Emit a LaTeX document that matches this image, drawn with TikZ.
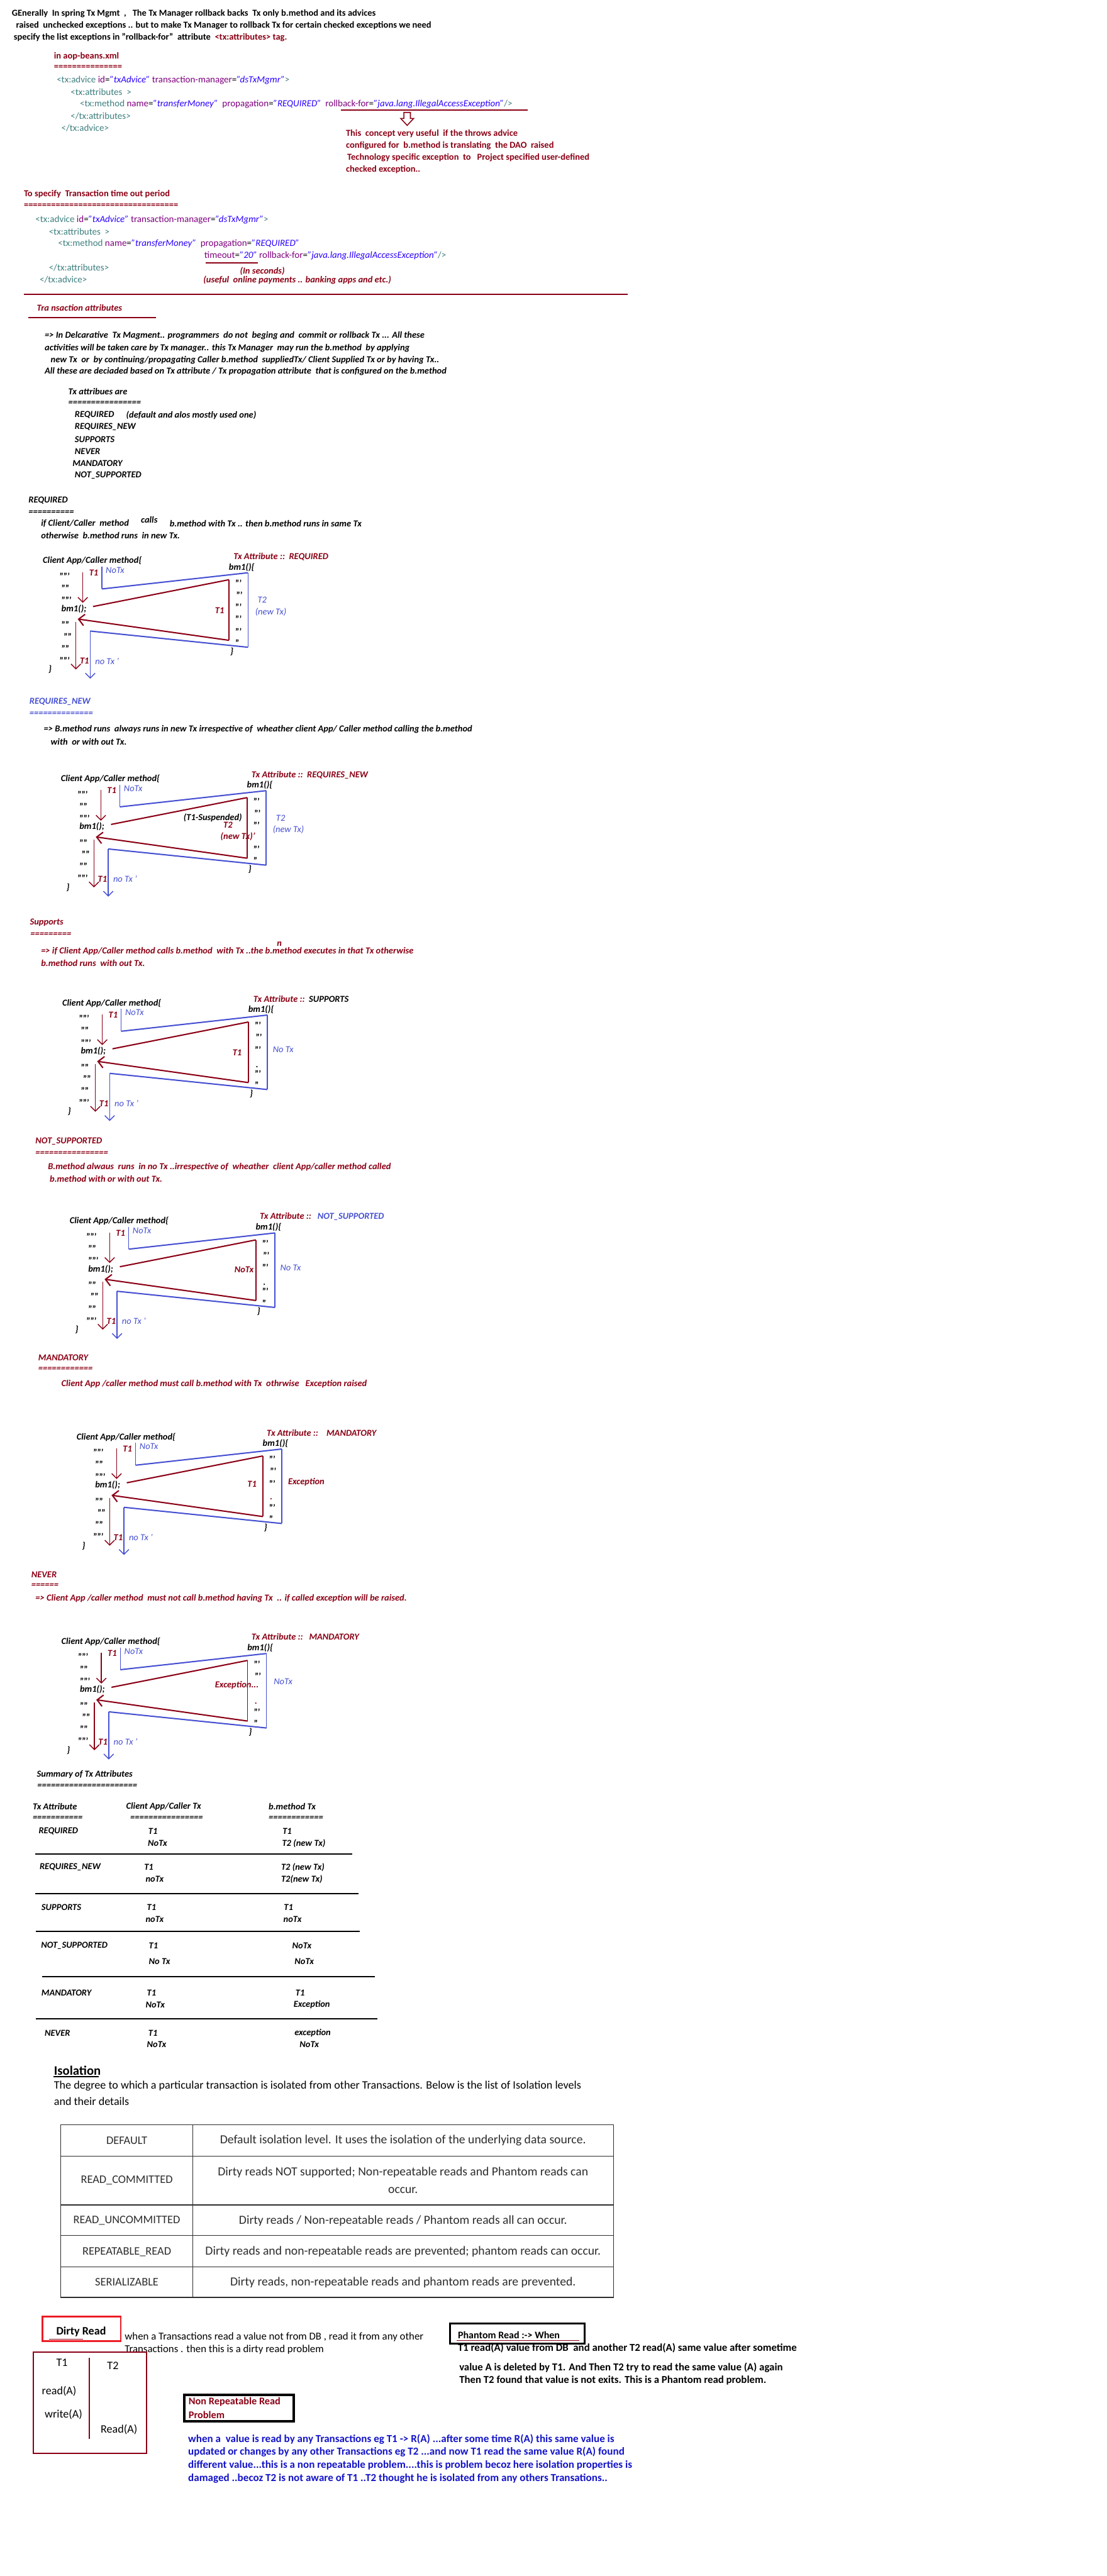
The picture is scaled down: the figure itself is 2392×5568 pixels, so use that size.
\documentclass[tikz,border=0pt]{standalone}
\usepackage{fontspec}
\setmainfont{Carlito}
\usetikzlibrary{arrows.meta}
\definecolor{dr}{RGB}{139,0,21}
\definecolor{bl}{RGB}{70,80,210}
\definecolor{xtag}{RGB}{63,127,127}
\definecolor{xattr}{RGB}{127,0,127}
\definecolor{xval}{RGB}{42,0,255}
\definecolor{pb}{RGB}{20,20,200}
\definecolor{rbox}{RGB}{237,28,36}
\definecolor{tgray}{RGB}{45,45,45}
\newcommand\fsz[1]{\fontsize{#1}{#1}\selectfont}
\newcommand\tg[1]{\textcolor{xtag}{#1}}
\newcommand\at[1]{\textcolor{xattr}{#1}}
\newcommand\va[1]{\textcolor{xval}{\itshape #1}}
\newcounter{nn}
\newcommand\mytx[4][]{\stepcounter{nn}\node[txt,#1] (n\arabic{nn}) at (#2,#3) {#4};}
\tikzset{
  txt/.style={anchor=west,inner sep=0pt,font=\fsz{5.6}},
  hb/.style={font=\fsz{5.6}\bfseries},
  cd/.style={font=\fsz{5.8}},
  bi/.style={font=\fsz{5.6}\bfseries\itshape},
  ri/.style={font=\fsz{5.6}\bfseries\itshape,text=dr},
  bli/.style={font=\fsz{5.6}\itshape,text=bl},
  dt/.style={font=\fsz{5.6}\bfseries,yshift=-1pt},
  rthin/.style={draw=dr,line width=0.55pt},
  rthick/.style={draw=dr,line width=0.8pt},
  bthin/.style={draw=bl,line width=0.55pt},
  bthick/.style={draw=bl,line width=0.8pt},
  barb/.style={-{Straight Barb[length=3pt,width=6pt]}},
  bigbarb/.style={-{Straight Barb[length=3.5pt,width=7pt]}},
  tcl/.style={anchor=center,font=\fsz{7.1},text=tgray},
  tcr/.style={anchor=center,font=\fsz{7.6},text=tgray},
  ph/.style={font=\fsz{6.5}\bfseries},
  nr/.style={font=\fsz{6.6}\bfseries,text=pb},
}
\newcommand\mydiag[3]{%
\begin{scope}[shift={(#1,#2)}]
\mytx[bi]{0}{0}{Client App/Caller method\{}
\mytx[bi]{402}{14}{bm1()\{}
\mytx[dt]{36}{30}{'''''}
\mytx[dt]{40}{56}{''''}
\mytx[dt]{40}{82}{'''''}
\mytx[bi]{40}{104}{bm1();}
\mytx[dt]{40}{135}{''''}
\mytx[dt]{45}{160}{''''}
\mytx[dt]{40}{186}{''''}
\mytx[dt]{36}{212}{'''''}
\mytx[bi]{12}{235}{\}}
\mytx[bi]{405}{196}{\}}
\mytx[ri]{100}{26}{T1}
\mytx[bli]{136}{21}{NoTx}
\mytx[ri]{80}{217}{T1}
\mytx[bli]{113}{217}{no Tx '}
\mytx[dt]{416}{45}{'''}
\mytx[dt]{418}{71}{'''}
\mytx[dt]{416}{149}{'''}
\mytx[dt]{416}{174}{''}
\coordinate (ra) at (87,25); \coordinate (rb) at (87,91);
\draw[rthin,barb] (ra) -- (rb);
\coordinate (b1) at (128,13); \coordinate (b2) at (128,61); \coordinate (b3) at (444,26);
\coordinate (b4) at (444,187); \coordinate (b5) at (103,152); \coordinate (b6) at (103,255);
\draw[bthin] (b1) -- (b2); \draw[bthick] (b2) -- (b3); \draw[bthin] (b3) -- (b4);
\draw[bthick] (b4) -- (b5); \draw[bthin,barb] (b5) -- (b6);
\coordinate (r1) at (109,99); \coordinate (r2) at (403,41); \coordinate (r3) at (403,172);
\coordinate (r4) at (76,126); \coordinate (r5) at (72,132); \coordinate (r6) at (72,235);
\draw[rthick] (r1) -- (r2); \draw[rthin] (r2) -- (r3); \draw[rthick,bigbarb] (r3) -- (r4);
\draw[rthin,barb] (r5) -- (r6);
#3
\end{scope}}
\begin{document}
\begin{tikzpicture}[x=0.01cm,y=-0.01cm]
\fill[white] (0,0) rectangle (2392,5568);
\useasboundingbox (0,0) rectangle (2392,5568);
% ---------- header
\mytx[hb]{25}{29}{GEnerally\ \ In spring Tx Mgmt\ \ ,\ \ \ The Tx Manager rollback backs\ \ Tx only b.method and its advices}
\mytx[hb]{34}{55}{raised\ \ unchecked exceptions .. but to make Tx Manager to rollback Tx for certain checked exceptions we need}
\mytx[hb]{29}{81}{specify the list exceptions in "rollback-for"\ \ attribute\ \ \textcolor{dr}{<tx:attributes> tag.}}
\mytx[hb,text=dr]{116}{122}{in aop-beans.xml}
\mytx[hb,text=dr]{116}{146}{===============}
\mytx[cd]{122}{173}{\tg{<tx:advice} \at{id}=\va{"txAdvice"} \at{transaction-manager}=\va{"dsTxMgmr"}\tg{>}}
\mytx[cd]{152}{199}{\tg{<tx:attributes\ \ >}}
\mytx[cd]{172}{225}{\tg{<tx:method} \at{name}=\va{"transferMoney"}\ \ \at{propagation}=\va{"REQUIRED"}\ \ \at{rollback-for}=\va{"java.lang.IllegalAccessException"}\tg{/>}}
\coordinate (u1a) at (737,238); \coordinate (u1b) at (1140,238);
\draw[dr,line width=0.7pt] (u1a) -- (u1b);
\draw[dr,line width=0.6pt,fill=white] (873,243) -- (887,243) -- (887,256) -- (894,256) -- (880,271) -- (866,256) -- (873,256) -- cycle;
\mytx[cd]{152}{251}{\tg{</tx:attributes>}}
\mytx[cd]{132}{277}{\tg{</tx:advice>}}
\mytx[hb,text=dr]{747}{289}{This\ \ concept very useful\ \ if the throws advice}
\mytx[hb,text=dr]{747}{315}{configured for\ \ b.method is translating\ \ the DAO\ \ raised}
\mytx[hb,text=dr]{750}{341}{Technology specific exception\ \ to\ \ \ Project specified user-defined}
\mytx[hb,text=dr]{747}{367}{checked exception..}
\mytx[hb,text=dr]{51}{420}{To specify\ \ Transaction time out period}
\mytx[hb,text=dr]{51}{445}{==================================}
\mytx[cd]{76}{475}{\tg{<tx:advice} \at{id}=\va{"txAdvice"} \at{transaction-manager}=\va{"dsTxMgmr"}\tg{>}}
\mytx[cd]{105}{501}{\tg{<tx:attributes\ \ >}}
\mytx[cd]{125}{527}{\tg{<tx:method} \at{name}=\va{"transferMoney"}\ \ \at{propagation}=\va{"REQUIRED"}}
\mytx[cd]{441}{553}{\at{timeout}=\va{"20"} \at{rollback-for}=\va{"java.lang.IllegalAccessException"}\tg{/>}}
\coordinate (u2a) at (444,568); \coordinate (u2b) at (557,568);
\draw[dr,line width=0.7pt] (u2a) -- (u2b);
\mytx[cd]{105}{578}{\tg{</tx:attributes>}}
\mytx[ri]{518}{586}{(In seconds)}
\mytx[cd]{85}{605}{\tg{</tx:advice>}}
\mytx[ri]{439}{606}{(useful\ \ online payments .. banking apps and etc.)}
\coordinate (h1a) at (51,636); \coordinate (h1b) at (1356,636);
\draw[dr,line width=0.9pt] (h1a) -- (h1b);
\mytx[ri]{79}{665}{Tra nsaction attributes}
\coordinate (u3a) at (61,687); \coordinate (u3b) at (337,687);
\draw[dr,line width=0.7pt] (u3a) -- (u3b);
\mytx[bi]{96}{726}{=> In Delcarative\ \ Tx Magment.. programmers\ \ do not\ \ beging and\ \ commit or rollback Tx ... All these}
\mytx[bi]{96}{752}{activities will be taken care by Tx manager.. this Tx Manager\ \ may run the b.method\ \ by applying}
\mytx[bi]{109}{778}{new Tx\ \ or\ \ by continuing/propagating Caller b.method\ \ suppliedTx/ Client Supplied Tx or by having Tx..}
\mytx[bi]{96}{803}{All these are deciaded based on Tx attribute / Tx propagation attribute\ \ that is configured on the b.method}
\mytx[bi]{147}{846}{Tx attribues are}
\mytx[bi]{147}{872}{================}
\mytx[bi]{161}{897}{REQUIRED}
\mytx[bi]{272}{897}{(default and alos mostly used one)}
\mytx[bi]{161}{923}{REQUIRES\_NEW}
\mytx[bi]{161}{950}{SUPPORTS}
\mytx[bi]{161}{976}{NEVER}
\mytx[bi]{156}{1002}{MANDATORY}
\mytx[bi]{161}{1027}{NOT\_SUPPORTED}
% ---------- REQUIRED
\mytx[bi]{61}{1082}{REQUIRED}
\mytx[bi]{61}{1108}{==========}
\mytx[bi]{88}{1132}{if Client/Caller\ \ method}
\mytx[bi]{304}{1124}{calls}
\mytx[bi]{366}{1132}{b.method with Tx .. then b.method runs in same Tx}
\mytx[bi]{88}{1158}{otherwise\ \ b.method runs\ \ in new Tx.}
\mydiag{92}{1212}{%
  \mytx[ri]{412}{-9}{Tx Attribute ::\ \ REQUIRED}
  \mytx[dt]{416}{97}{'''}
  \mytx[dt]{416}{123}{'''}
  \mytx[ri]{372}{108}{T1}
  \mytx[bli]{464}{84}{T2}
  \mytx[bli]{459}{111}{(new Tx)}}
% ---------- REQUIRES_NEW
\mytx[bi,text=bl]{63}{1517}{REQUIRES\_NEW}
\mytx[bi,text=bl]{63}{1543}{==============}
\mytx[bi]{94}{1577}{=> B.method runs\ \ always runs in new Tx irrespective of\ \ wheather client App/ Caller method calling the b.method}
\mytx[bi]{109}{1603}{with\ \ or with out Tx.}
\mydiag{131}{1683}{%
  \mytx[ri]{412}{-8}{Tx Attribute ::\ \ REQUIRES\_NEW}
  \mytx[dt]{416}{97}{'''}
  \mytx[bi]{265}{84}{(T1-Suspended)}
  \mytx[ri]{351}{100}{T2}
  \mytx[ri]{345}{125}{(new Tx)'}
  \mytx[bli]{465}{85}{T2}
  \mytx[bli]{458}{110}{(new Tx)}}
% ---------- SUPPORTS
\mytx[ri]{64}{1994}{Supports}
\mytx[ri]{65}{2020}{=========}
\mytx[ri]{598}{2040}{n}
\mytx[ri]{88}{2056}{=> if Client App/Caller method calls b.method\ \ with Tx ..the b.method executes in that Tx otherwise}
\mytx[ri]{88}{2082}{b.method runs\ \ with out Tx.}
\mydiag{134}{2168}{%
  \mytx[ri]{413}{-9}{Tx Attribute ::\ \ \textcolor{black}{SUPPORTS}}
  \mytx[dt]{416}{97}{'''}
  \mytx[dt]{418}{134}{.}
  \mytx[ri]{368}{107}{T1}
  \mytx[bli]{455}{100}{No Tx}}
% ---------- NOT_SUPPORTED
\mytx[ri]{76}{2467}{NOT\_SUPPORTED}
\mytx[ri]{76}{2493}{================}
\mytx[ri]{103}{2522}{B.method alwaus\ \ runs\ \ in no Tx ..irrespective of\ \ wheather\ \ client App/caller method called}
\mytx[ri]{107}{2548}{b.method with or with out Tx.}
\mydiag{150}{2639}{%
  \mytx[ri]{411}{-10}{Tx Attribute ::\ \ \ \textcolor{bl}{NOT\_SUPPORTED}}
  \mytx[dt]{416}{97}{'''}
  \mytx[dt]{418}{134}{.}
  \mytx[ri]{356}{106}{NoTx}
  \mytx[bli]{455}{101}{No Tx}}
% ---------- MANDATORY
\mytx[ri]{82}{2934}{MANDATORY}
\mytx[ri]{82}{2960}{============}
\mytx[ri]{132}{2991}{Client App /caller method must call b.method with Tx\ \ othrwise\ \ \ Exception raised}
\mydiag{165}{3106}{%
  \mytx[ri]{411}{-9}{Tx Attribute ::\ \ \ \ MANDATORY}
  \mytx[dt]{416}{97}{'''}
  \mytx[ri]{418}{134}{.}
  \mytx[ri]{369}{102}{T1}
  \mytx[ri]{457}{97}{Exception}}
% ---------- NEVER
\mytx[ri]{67}{3403}{NEVER}
\mytx[ri]{67}{3428}{======}
\mytx[ri]{76}{3455}{=> Client App /caller method\ \ must not call b.method having Tx\ \ .. if called exception will be raised.}
\mydiag{132}{3548}{%
  \mytx[ri]{411}{-10}{Tx Attribute ::\ \ \ MANDATORY}
  \mytx[ri]{418}{134}{.}
  \mytx[ri]{332}{94}{Exception...}
  \mytx[bli]{459}{87}{NoTx}}
% ---------- Summary
\mytx[bi]{79}{3835}{Summary of Tx Attributes}
\mytx[bi]{80}{3861}{======================}
\mytx[bi]{70}{3905}{Tx Attribute}
\mytx[bi]{272}{3905}{Client App/Caller Tx}
\mytx[bi]{580}{3905}{b.method Tx}
\mytx[bi]{70}{3930}{===========}
\mytx[bi]{281}{3930}{================}
\mytx[bi]{580}{3930}{============}
\mytx[bi]{83}{3958}{REQUIRED}
\mytx[bi]{320}{3958}{T1}
\mytx[bi]{610}{3958}{T1}
\mytx[bi]{319}{3984}{NoTx}
\mytx[bi]{609}{3984}{T2 (new Tx)}
\coordinate (s1a) at (76,4008); \coordinate (s1b) at (761,4008);
\draw[line width=0.75pt] (s1a) -- (s1b);
\mytx[bi]{85}{4036}{REQUIRES\_NEW}
\mytx[bi]{311}{4036}{T1}
\mytx[bi]{607}{4036}{T2 (new Tx)}
\mytx[bi]{314}{4062}{noTx}
\mytx[bi]{607}{4062}{T2(new Tx)}
\coordinate (s2a) at (76,4093); \coordinate (s2b) at (775,4093);
\draw[line width=0.75pt] (s2a) -- (s2b);
\mytx[bi]{89}{4123}{SUPPORTS}
\mytx[bi]{317}{4123}{T1}
\mytx[bi]{613}{4123}{T1}
\mytx[bi]{314}{4149}{noTx}
\mytx[bi]{612}{4149}{noTx}
\coordinate (s3a) at (78,4174); \coordinate (s3b) at (777,4174);
\draw[line width=0.75pt] (s3a) -- (s3b);
\mytx[bi]{88}{4205}{NOT\_SUPPORTED}
\mytx[bi]{321}{4205}{T1}
\mytx[bi]{631}{4205}{NoTx}
\mytx[bi]{321}{4240}{No Tx}
\mytx[bi]{636}{4240}{NoTx}
\coordinate (s4a) at (91,4272); \coordinate (s4b) at (810,4272);
\draw[line width=0.75pt] (s4a) -- (s4b);
\mytx[bi]{89}{4307}{MANDATORY}
\mytx[bi]{317}{4307}{T1}
\mytx[bi]{638}{4307}{T1}
\mytx[bi]{314}{4333}{NoTx}
\mytx[bi]{634}{4333}{Exception}
\coordinate (s5a) at (78,4364); \coordinate (s5b) at (815,4364);
\draw[line width=0.75pt] (s5a) -- (s5b);
\mytx[bi]{96}{4394}{NEVER}
\mytx[bi]{320}{4394}{T1}
\mytx[bi]{636}{4394}{exception}
\mytx[bi]{317}{4419}{NoTx}
\mytx[bi]{647}{4419}{NoTx}
% ---------- Isolation
\mytx[font=\fsz{8}\bfseries]{116}{4476}{Isolation}
\coordinate (i1a) at (116,4489); \coordinate (i1b) at (214,4489);
\draw[line width=0.7pt] (i1a) -- (i1b);
\mytx[font=\fsz{7}]{116}{4509}{The degree to which a particular transaction is isolated from other Transactions. Below is the list of Isolation levels}
\mytx[font=\fsz{7}]{116}{4542}{and their details}
\draw[tgray,line width=0.5pt] (131,4593) rectangle (1326,4966);
\draw[tgray,line width=0.3pt] (417,4593) -- (417,4966);
\draw[tgray,line width=0.45pt] (131,4660) -- (1326,4660);
\draw[tgray,line width=0.45pt] (131,4766) -- (1326,4766);
\draw[tgray,line width=0.3pt] (131,4832) -- (1326,4832);
\draw[tgray,line width=0.3pt] (131,4899) -- (1326,4899);
\draw[tgray,line width=0.6pt] (131,4966) -- (1326,4966);
\mytx[tcl]{274}{4627}{DEFAULT}
\mytx[tcr]{871}{4627}{Default isolation level. It uses the isolation of the underlying data source.}
\mytx[tcl]{274}{4712}{READ\_COMMITTED}
\mytx[tcr]{871}{4695}{Dirty reads NOT supported; Non-repeatable reads and Phantom reads can}
\mytx[tcr]{871}{4734}{occur.}
\mytx[tcl]{274}{4800}{READ\_UNCOMMITTED}
\mytx[tcr]{871}{4800}{Dirty reads / Non-repeatable reads / Phantom reads all can occur.}
\mytx[tcl]{274}{4867}{REPEATABLE\_READ}
\mytx[tcr]{871}{4867}{Dirty reads and non-repeatable reads are prevented; phantom reads can occur.}
\mytx[tcl]{274}{4933}{SERIALIZABLE}
\mytx[tcr]{871}{4933}{Dirty reads, non-repeatable reads and phantom reads are prevented.}
% ---------- Dirty read
\draw[rbox,line width=1.1pt] (92,5007) rectangle (261,5060);
\mytx[font=\fsz{7}\bfseries]{121}{5040}{Dirty Read}
\coordinate (d1a) at (106,5056); \coordinate (d1b) at (179,5056);
\draw[dr,line width=0.6pt] (d1a) -- (d1b);
\mytx[font=\fsz{6.5}]{269}{5051}{when a Transactions read a value not from DB , read it from any other}
\mytx[font=\fsz{6.5}]{269}{5078}{Transactions . then this is a dirty read problem}
\draw[dr,line width=0.9pt] (72,5084) rectangle (317,5303);
\coordinate (dv1) at (193,5096); \coordinate (dv2) at (193,5272);
\draw[dr,line width=0.6pt] (dv1) -- (dv2);
\mytx[font=\fsz{7}]{121}{5107}{T1}
\mytx[font=\fsz{7}]{231}{5113}{T2}
\mytx[font=\fsz{7}]{90}{5168}{read(A)}
\mytx[font=\fsz{7}]{96}{5219}{write(A)}
\mytx[font=\fsz{7}]{217}{5252}{Read(A)}
% ---------- Phantom
\draw[black,line width=1.2pt] (973,5022) rectangle (1264,5066);
\mytx[font=\fsz{6.2}\bfseries]{989}{5047}{Phantom Read :-> When}
\coordinate (p1a) at (987,5059); \coordinate (p1b) at (1252,5059);
\draw[dr,line width=0.6pt] (p1a) -- (p1b);
\mytx[ph]{989}{5075}{T1 read(A) value from DB\ \ and another T2 read(A) same value after sometime}
\mytx[ph]{992}{5117}{value A is deleted by T1. And Then T2 try to read the same value (A) again}
\mytx[ph]{992}{5145}{Then T2 found that value is not exits. This is a Phantom read problem.}
% ---------- Non repeatable
\draw[black,line width=1.5pt] (398,5177) rectangle (635,5234);
\mytx[font=\fsz{6.3}\bfseries,text=dr]{407}{5192}{Non Repeatable Read}
\mytx[font=\fsz{6.3}\bfseries,text=dr]{407}{5220}{Problem}
\mytx[nr]{406}{5272}{when a\ \ value is read by any Transactions eg T1 -> R(A) ...after some time R(A) this same value is}
\mytx[nr]{406}{5300}{updated or changes by any other Transactions eg T2 ...and now T1 read the same value R(A) found}
\mytx[nr]{406}{5328}{different value...this is a non repeatable problem....this is problem becoz here isolation properties is}
\mytx[nr]{406}{5357}{damaged ..becoz T2 is not aware of T1 ..T2 thought he is isolated from any others Transations..}
\end{tikzpicture}
\end{document}
